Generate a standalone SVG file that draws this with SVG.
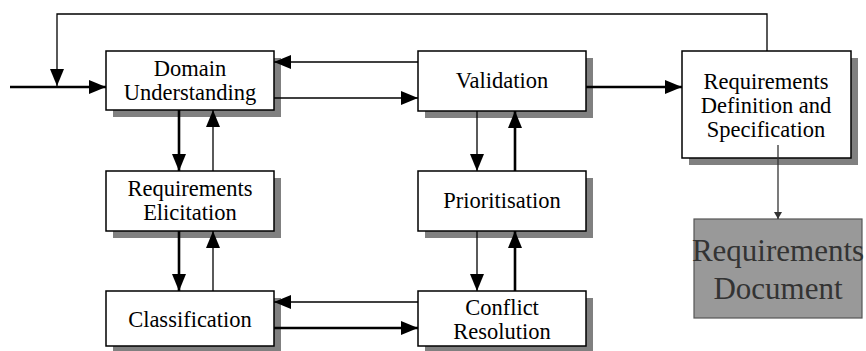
<svg xmlns="http://www.w3.org/2000/svg" width="866" height="351" viewBox="0 0 866 351">
<style>
.shadow{fill:#808080}
.box{fill:#fff;stroke:#000;stroke-width:1.5}
.t{font-family:"Liberation Serif","Times New Roman",serif;font-size:22.5px;fill:#000;text-anchor:middle}
.doc{font-family:"Liberation Serif","Times New Roman",serif;font-size:31px;fill:#333;text-anchor:middle}
.thick{stroke:#000;stroke-width:2.6;fill:none}
.thin{stroke:#000;stroke-width:1.3;fill:none}
</style>
<defs>
<marker id="ah" markerUnits="userSpaceOnUse" markerWidth="17" markerHeight="14" refX="17" refY="7" orient="auto">
<path d="M0,0 L17,7 L0,14 z" fill="#000"/>
</marker>
<marker id="sah" markerUnits="userSpaceOnUse" markerWidth="8" markerHeight="8" refX="7" refY="4" orient="auto">
<path d="M0,0 L7,4 L0,8 z" fill="#333"/>
</marker>
</defs>
<rect width="866" height="351" fill="#fff"/>

<g id="domain">
<rect class="shadow" x="113" y="58" width="168" height="59"/>
<rect class="box" x="106" y="51" width="168" height="59"/>
<text class="t" x="190" y="76">Domain</text>
<text class="t" x="190" y="100">Understanding</text>
</g>
<g id="validation">
<rect class="shadow" x="425" y="58" width="168" height="60"/>
<rect class="box" x="418" y="51" width="168" height="60"/>
<text class="t" x="502" y="88">Validation</text>
</g>
<g id="spec">
<rect class="shadow" x="689" y="58" width="169" height="107"/>
<rect class="box" x="682" y="51" width="169" height="107"/>
<text class="t" x="766" y="89">Requirements</text>
<text class="t" x="766" y="113">Definition and</text>
<text class="t" x="766" y="137">Specification</text>
</g>
<g id="elicitation">
<rect class="shadow" x="113" y="178" width="168" height="60"/>
<rect class="box" x="106" y="171" width="168" height="60"/>
<text class="t" x="190" y="196">Requirements</text>
<text class="t" x="190" y="220">Elicitation</text>
</g>
<g id="prioritisation">
<rect class="shadow" x="425" y="178" width="168" height="60"/>
<rect class="box" x="418" y="171" width="168" height="60"/>
<text class="t" x="502" y="208">Prioritisation</text>
</g>
<g id="classification">
<rect class="shadow" x="113" y="298" width="168" height="55"/>
<rect class="box" x="106" y="291" width="168" height="55"/>
<text class="t" x="190" y="327">Classification</text>
</g>
<g id="conflict">
<rect class="shadow" x="425" y="298" width="168" height="55"/>
<rect class="box" x="418" y="291" width="168" height="55"/>
<text class="t" x="502" y="315">Conflict</text>
<text class="t" x="502" y="339">Resolution</text>
</g>
<g id="document">
<rect x="694" y="219" width="168" height="99" fill="#999" stroke="#555" stroke-width="1.2"/>
<text class="doc" x="778" y="261">Requirements</text>
<text class="doc" x="778" y="299">Document</text>
</g>

<g id="connectors">
<path class="thick" d="M10,87 L106,87" marker-end="url(#ah)"/>
<path class="thin" d="M767,51 L767,14 L57,14 L57,86" marker-end="url(#ah)"/>
<path class="thin" d="M418,62 L274,62" marker-end="url(#ah)"/>
<path class="thin" d="M274,98 L418,98" marker-end="url(#ah)"/>
<path class="thick" d="M586,87 L682,87" marker-end="url(#ah)"/>
<path class="thick" d="M179,110 L179,171" marker-end="url(#ah)"/>
<path class="thin" d="M213,171 L213,110" marker-end="url(#ah)"/>
<path class="thick" d="M179,231 L179,291" marker-end="url(#ah)"/>
<path class="thin" d="M213,291 L213,231" marker-end="url(#ah)"/>
<path class="thin" d="M477,111 L477,171" marker-end="url(#ah)"/>
<path class="thick" d="M515,171 L515,111" marker-end="url(#ah)"/>
<path class="thin" d="M477,231 L477,291" marker-end="url(#ah)"/>
<path class="thick" d="M515,291 L515,231" marker-end="url(#ah)"/>
<path class="thin" d="M418,302 L274,302" marker-end="url(#ah)"/>
<path class="thick" d="M274,328 L418,328" marker-end="url(#ah)"/>
<path d="M778,145 L778,219" stroke="#333" stroke-width="1.3" fill="none" marker-end="url(#sah)"/>
</g>
</svg>
